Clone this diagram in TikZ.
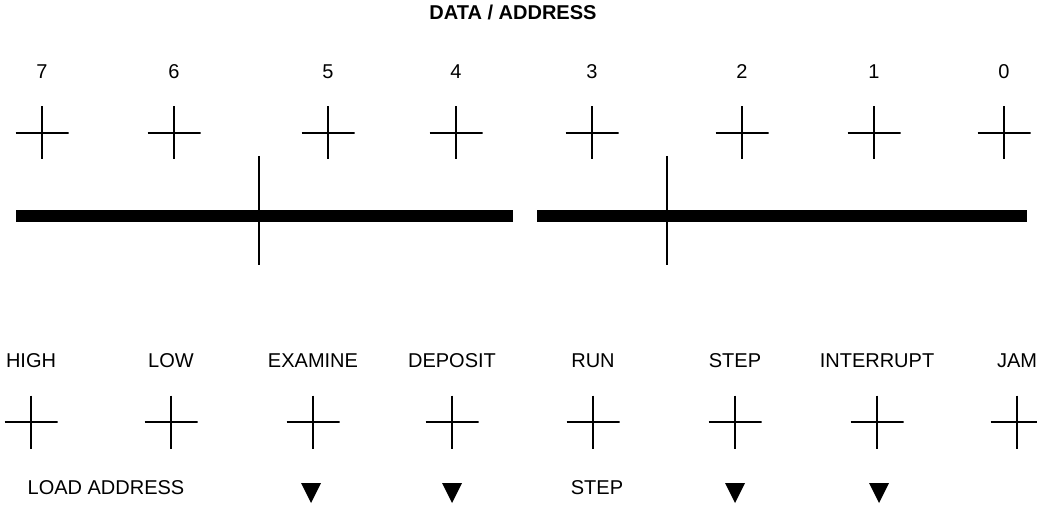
\documentclass[tikz,border=0pt]{standalone}
\usepackage{fontspec}
\setmainfont{Liberation Sans}

\begin{document}
\begin{tikzpicture}[x=1pt,y=-1pt,
        switch/.style={minimum size=53pt,inner sep=0pt,path picture={
            \draw[line width=1.3pt] (path picture bounding box.north) -- (path picture bounding box.south);
            \draw[line width=1.3pt] (path picture bounding box.west) -- (path picture bounding box.east);}},
        marker/.style={minimum width=20pt,minimum height=20pt,inner sep=0pt,path picture={
            \fill (path picture bounding box.north west) -- (path picture bounding box.north east)
                -- (path picture bounding box.south) -- cycle;}},
        lbl/.style={font=\fontsize{20}{24}\selectfont,inner sep=0pt}]
        \useasboundingbox (0,0) rectangle (1037,508);

        % Draw title
        \node[lbl,font=\fontsize{20}{24}\selectfont\bfseries] (title) at (513,12) {DATA / ADDRESS};

        % Draw bit numbers explicitly
        \node[lbl] (b7) at (42,72) {7};
        \node[lbl] (b6) at (174,72) {6};
        \node[lbl] (b5) at (328,72) {5};
        \node[lbl] (b4) at (456,72) {4};
        \node[lbl] (b3) at (592,72) {3};
        \node[lbl] (b2) at (742,72) {2};
        \node[lbl] (b1) at (874,72) {1};
        \node[lbl] (b0) at (1004,72) {0};

        % Draw data switches explicitly
        \node[switch] (d7) at (42,133) {};
        \node[switch] (d6) at (174,133) {};
        \node[switch] (d5) at (328,133) {};
        \node[switch] (d4) at (456,133) {};
        \node[switch] (d3) at (592,133) {};
        \node[switch] (d2) at (742,133) {};
        \node[switch] (d1) at (874,133) {};
        \node[switch] (d0) at (1004,133) {};

        % Draw bars
        \fill (16,210) rectangle (513,222);
        \fill (537,210) rectangle (1027,222);
        \draw[line width=1.3pt] (259,156) -- (259,265);
        \draw[line width=1.3pt] (667,156) -- (667,265);

        % Draw control names explicitly
        \node[lbl] (nhigh) at (31,361) {HIGH};
        \node[lbl] (nlow) at (171,361) {LOW};
        \node[lbl] (nexam) at (313,361) {EXAMINE};
        \node[lbl] (ndep) at (452,361) {DEPOSIT};
        \node[lbl] (nrun) at (593,361) {RUN};
        \node[lbl] (nstep) at (735,361) {STEP};
        \node[lbl] (nint) at (877,361) {INTERRUPT};
        \node[lbl] (njam) at (1017,361) {JAM};

        % Draw control switches explicitly
        \node[switch] (high) at (31,422) {};
        \node[switch] (low) at (171,422) {};
        \node[switch] (exam) at (313,422) {};
        \node[switch] (dep) at (452,422) {};
        \node[switch] (run) at (593,422) {};
        \node[switch] (step) at (735,422) {};
        \node[switch] (int) at (877,422) {};
        \node[switch] (jam) at (1017,422) {};

        % Draw lower row
        \node[lbl] (load) at (106,488) {LOAD ADDRESS};
        \node[marker] (mexam) at (311,493) {};
        \node[marker] (mdep) at (452,493) {};
        \node[lbl] (lstep) at (597,488) {STEP};
        \node[marker] (mstep) at (735,493) {};
        \node[marker] (mint) at (879,493) {};
    \end{tikzpicture}
\end{document}
